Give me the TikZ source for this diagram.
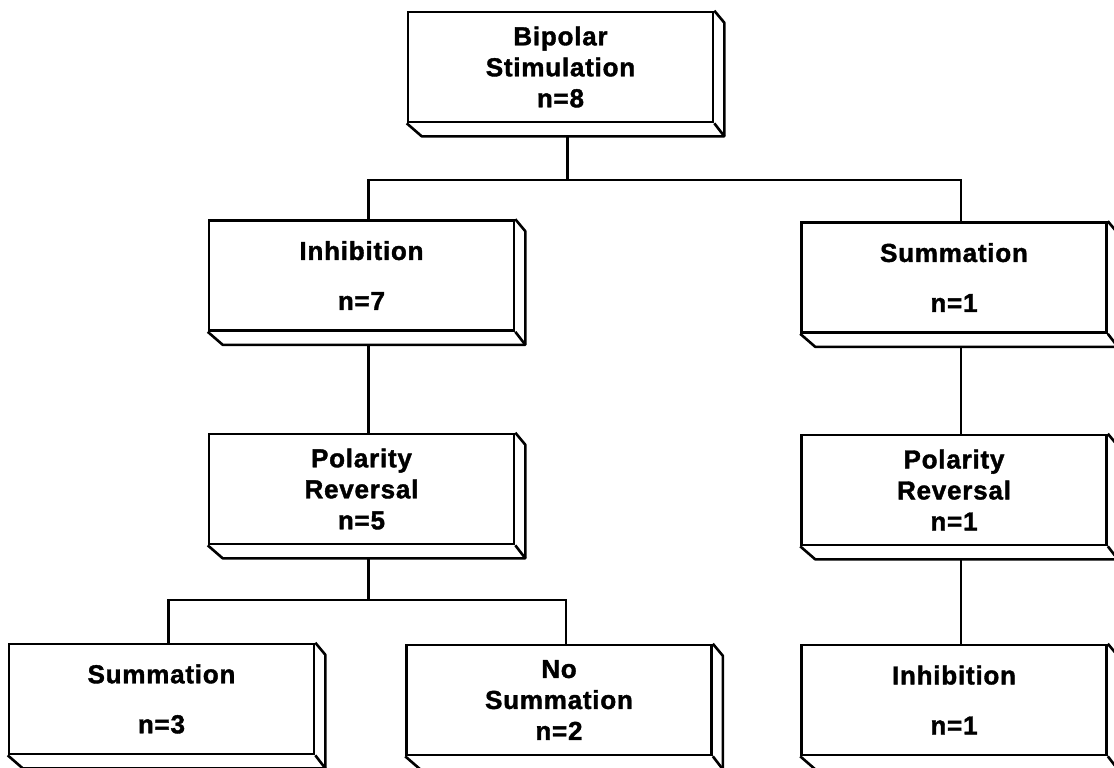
\documentclass[tikz,border=0pt]{standalone}
\usepackage{fontspec}
\newfontfamily\lab{Liberation Sans Bold}[LetterSpace=3,FakeBold=1.5]
\usetikzlibrary{calc}
\tikzset{
  frontbox/.style={draw, line width=2.6pt, fill=white, minimum width=305pt, minimum height=110pt,
    align=center, inner sep=0pt, font=\lab\fontsize{26}{31}\selectfont},
  edge/.style={line width=2.6pt, line join=round},
  conn/.style={line width=2.6pt}
}
\newcommand\slab[4]{%
  \node[frontbox] (#1) at (#2,#3) {#4};
  \draw[edge] (#1.north east) -- ++(10,12) -- ($(#1.south east)+(10,13)$) -- ($(#1.south west)+(15,13)$) -- (#1.south west);
  \draw[edge] (#1.south east) -- ++(10,13);
  \coordinate (#1-top) at ($(#1.north)+(7,0)$);
  \coordinate (#1-bot) at ($(#1.south)+(7,13)$);
}
\begin{document}
\begin{tikzpicture}[x=1pt,y=-1pt]
\useasboundingbox (0,0) rectangle (1114,768);
\slab{top}{560.5}{67}{Bipolar\\Stimulation\\n=8}
\slab{inhL}{361.5}{275.5}{Inhibition\\[19pt]n=7}
\slab{sumR}{954}{277.5}{Summation\\[19pt]n=1}
\slab{polL}{361.5}{489}{Polarity\\Reversal\\n=5}
\slab{polR}{954}{490}{Polarity\\Reversal\\n=1}
\slab{sumB}{161.5}{699}{Summation\\[19pt]n=3}
\slab{noSum}{559}{700}{No\\Summation\\n=2}
\slab{inhR}{954}{700}{Inhibition\\[19pt]n=1}
\coordinate (j1) at (0,180);
\coordinate (j2) at (0,600);
\draw[conn] (top-bot) -- (top-bot |- j1);
\draw[conn] (inhL-top) |- (j1 -| top-bot) -| (sumR-top);
\draw[conn] (inhL-top) -- (inhL-top |- j1);
\draw[conn] (inhL-bot) -- (polL-top);
\draw[conn] (sumR-bot) -- (polR-top);
\draw[conn] (polR-bot) -- (inhR-top);
\draw[conn] (polL-bot) -- (polL-bot |- j2);
\draw[conn] (sumB-top) |- (j2 -| polL-bot) -| (noSum-top);
\end{tikzpicture}
\end{document}
